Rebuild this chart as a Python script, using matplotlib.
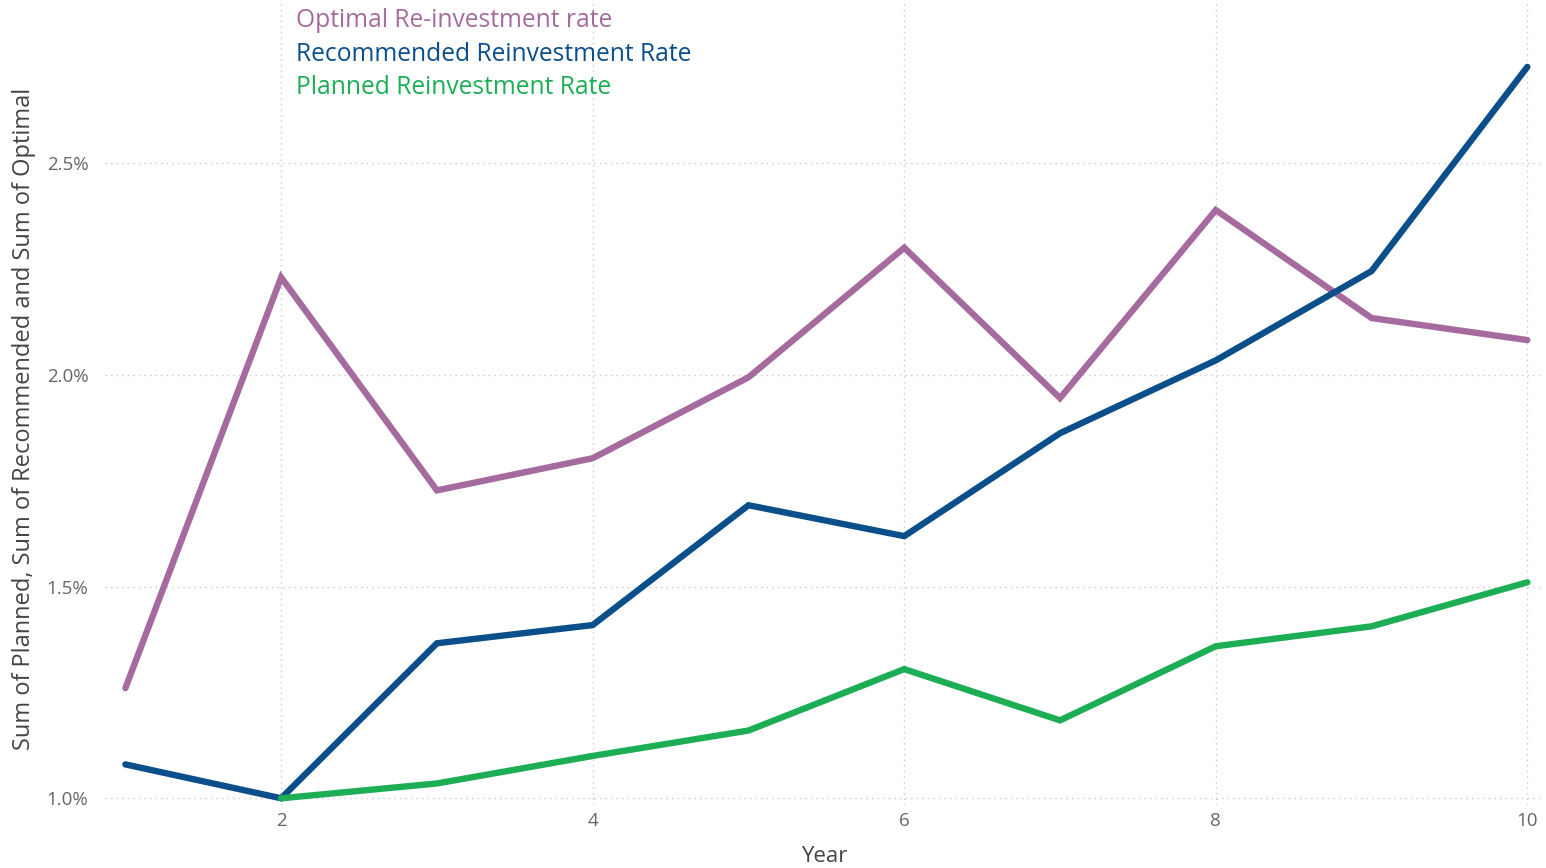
import numpy as np
from matplotlib import pyplot as plt
from matplotlib.ticker import FuncFormatter

plt.rcParams['font.family'] = ['Open Sans', 'DejaVu Sans']

years = [1, 2, 3, 4, 5, 6, 7, 8, 9, 10]
optimal = [1.26, 2.23, 1.727, 1.803, 1.994, 2.30, 1.945, 2.389, 2.134, 2.082]
recommended = [1.08, 1.0, 1.366, 1.409, 1.692, 1.619, 1.862, 2.034, 2.245, 2.727]
planned = [np.nan, 1.0, 1.035, 1.10, 1.16, 1.305, 1.184, 1.359, 1.406, 1.51]

series_names = ["Optimal Re-investment rate", "Recommended Reinvestment Rate", "Planned Reinvestment Rate"]
series_colors = ["#A66B9E", "#0B4F8A", "#1DAE55"]

fig = plt.figure(figsize=(15.46, 8.68), dpi=100)
ax = fig.add_axes([0.068, 0.073, 0.93, 0.927])

for vals, name, col in zip([optimal, recommended, planned], series_names, series_colors):
    ax.plot(years, vals, color=col, linewidth=4.6, solid_joinstyle='miter', solid_capstyle='round', label=name)

ax.set_xlim(0.87, 10.10)
ax.set_ylim(0.985, 2.885)
ax.set_xticks([2, 4, 6, 8, 10])
ax.set_yticks([1.0, 1.5, 2.0, 2.5])
ax.yaxis.set_major_formatter(FuncFormatter(lambda v, p: "{:.1f}%".format(v)))
ax.grid(True, color='#c8c8c8', linestyle=(0, (1, 3)), linewidth=1)
ax.set_axisbelow(True)
for s in ax.spines.values():
    s.set_visible(False)
ax.tick_params(length=0, labelsize=13.5, labelcolor='#666666')
ax.tick_params(axis='x', pad=5)
ax.tick_params(axis='y', pad=12)

ax.set_xlabel("Year", fontsize=16, color='#444444', labelpad=12)
ax.set_ylabel("Sum of Planned, Sum of Recommended and Sum of Optimal", fontsize=17, color='#444444', labelpad=8)
ax.yaxis.label.set_y(0.48)

for i, (name, col) in enumerate(zip(series_names, series_colors)):
    ax.text(0.1325, 0.990 - i * 0.0416, name, color=col, fontsize=17.7, transform=ax.transAxes, va='top', ha='left')

fig.savefig("out.png", dpi=100)
